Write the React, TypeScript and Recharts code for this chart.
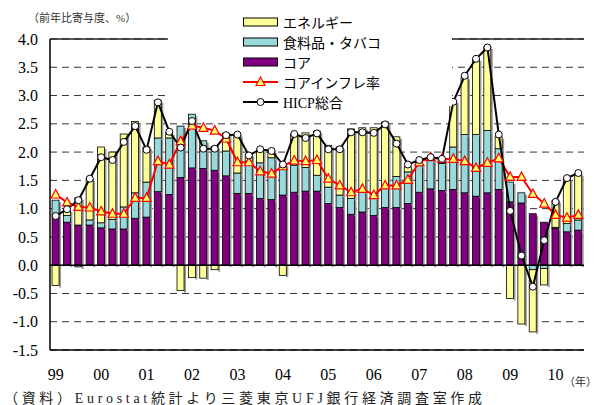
import React from 'react';
import { ComposedChart, Bar, Line, XAxis, YAxis, CartesianGrid, ReferenceLine } from 'recharts';

// 四半期 (1999Q1〜2010Q3)
const years = ['99', '00', '01', '02', '03', '04', '05', '06', '07', '08', '09', '10'];
const quarters = years.flatMap((y) => ['Q1', 'Q2', 'Q3', 'Q4'].map((q) => y + q)).slice(0, 47);

// 寄与度 (%pt)
const core = [
  0.89, 0.76, 0.71, 0.71,
  0.66, 0.64, 0.64, 0.83,
  0.85, 1.30, 1.25, 1.55,
  1.72, 1.71, 1.68, 1.58,
  1.27, 1.27, 1.18, 1.16,
  1.24, 1.29, 1.31, 1.31,
  1.09, 1.02, 0.90, 0.94,
  0.88, 1.02, 1.02, 1.09,
  1.29, 1.35, 1.32, 1.34,
  1.28, 1.22, 1.28, 1.34,
  1.12, 1.10, 0.91, 0.76,
  0.65, 0.59, 0.62,
];
const food = [
  0.26, 0.12, -0.03, 0.09,
  0.09, 0.17, 0.39, 0.45,
  0.62, 0.95, 1.00, 0.91,
  0.95, 0.49, 0.42, 0.44,
  0.36, 0.57, 0.63, 0.74,
  0.55, 0.48, 0.42, 0.28,
  0.29, 0.22, 0.28, 0.35,
  0.31, 0.36, 0.55, 0.56,
  0.47, 0.50, 0.48, 0.75,
  1.03, 1.09, 1.10, 0.72,
  0.35, 0.18, -0.08, -0.06,
  0.02, 0.15, 0.18,
];
const energy = [
  -0.36, 0.10, 0.48, 0.73,
  1.34, 1.19, 1.29, 1.26,
  0.62, 0.66, 0.09, -0.45,
  -0.22, -0.23, -0.08, 0.31,
  0.68, 0.12, 0.24, 0.12,
  -0.18, 0.55, 0.61, 0.78,
  0.74, 0.85, 1.23, 1.14,
  1.24, 1.15, 0.70, 0.09,
  0.06, 0.06, 0.08, 0.81,
  1.01, 1.34, 1.48, 0.21,
  -0.59, -1.04, -1.10, -0.29,
  0.47, 0.79, 0.82,
];
// 前年比 (%)
const coreInflation = [
  1.25, 1.11, 1.03, 1.02,
  0.95, 0.91, 0.91, 1.19,
  1.19, 1.84, 1.78, 2.19,
  2.47, 2.43, 2.38, 2.24,
  1.82, 1.82, 1.66, 1.62,
  1.75, 1.85, 1.84, 1.86,
  1.53, 1.41, 1.29, 1.35,
  1.24, 1.41, 1.41, 1.51,
  1.82, 1.91, 1.88, 1.88,
  1.84, 1.72, 1.81, 1.89,
  1.56, 1.56, 1.26, 1.09,
  0.89, 0.84, 0.89,
];
const hicp = [
  0.87, 0.99, 1.15, 1.53,
  1.91, 1.86, 2.18, 2.46,
  2.04, 2.88, 2.36, 2.08,
  2.55, 2.06, 2.06, 2.30,
  2.31, 1.94, 2.05, 2.02,
  1.78, 2.32, 2.25, 2.33,
  2.05, 2.05, 2.35, 2.35,
  2.34, 2.49, 2.15, 1.78,
  1.86, 1.91, 1.88, 2.89,
  3.35, 3.65, 3.85, 2.31,
  0.96, 0.17, -0.38, 0.44,
  1.12, 1.54, 1.63,
];
const yTicks = [-1.5, -1.0, -0.5, 0, 0.5, 1.0, 1.5, 2.0, 2.5, 3.0, 3.5, 4.0];

const data = quarters.map((q, i) => ({
  q,
  core: core[i],
  food: food[i],
  energy: energy[i],
  coreInflation: coreInflation[i],
  hicp: hicp[i],
}));

const YELLOW = '#FFFF99';
const TEAL = '#99D9DA';
const PURPLE = '#800080';
const RED = '#FF0000';
const SERIF = '"Liberation Serif", "Noto Sans CJK JP", serif';

// 影付きの棒
const ShadowBar = (props: any) => {
  const { x, y, width, height, fill } = props;
  if (!height) return <g />;
  const top = height < 0 ? y + height : y;
  const h = Math.abs(height);
  return (
    <g>
      <rect x={x + width} y={top + 2} width={2} height={h} fill="#9a9a9a" />
      <rect x={x} y={top} width={width} height={h} fill={fill} stroke="#000" strokeWidth={0.8} />
    </g>
  );
};

const Triangle = (props: any) => {
  const { cx, cy, index } = props;
  return (
    <polygon
      key={`tri-${index}`}
      points={`${cx},${cy - 5} ${cx - 4.5},${cy + 3.5} ${cx + 4.5},${cy + 3.5}`}
      fill="#FFFF66"
      stroke={RED}
      strokeWidth={1.2}
    />
  );
};

const legendRows = [
  { label: 'エネルギー', kind: 'box', color: YELLOW },
  { label: '食料品・タバコ', kind: 'box', color: TEAL },
  { label: 'コア', kind: 'box', color: PURPLE },
  { label: 'コアインフレ率', kind: 'tri', color: RED },
  { label: 'HICP総合', kind: 'circle', color: '#000' },
];

export default function App() {
  return (
    <div style={{ position: 'absolute', left: 0, top: 0, width: 599, height: 405, background: '#fff' }}>
      <ComposedChart
        width={599}
        height={405}
        data={data}
        stackOffset="sign"
        barCategoryGap="18%"
        margin={{ top: 39, right: 15, bottom: 25, left: 10 }}
      >
        <CartesianGrid vertical={false} stroke="#333" strokeDasharray="7 5" />
        <XAxis
          dataKey="q"
          interval={0}
          tickLine={false}
          height={30}
          tickMargin={13}
          axisLine={{ stroke: '#000', strokeWidth: 1.5 }}
          tickFormatter={(v: string) => (v.endsWith('Q1') ? v.slice(0, 2) : '')}
          tick={{ fill: '#000', fontSize: 16, fontFamily: SERIF }}
        />
        <YAxis
          width={40}
          domain={[-1.5, 4]}
          ticks={yTicks}
          interval={0}
          tickLine={false}
          tickMargin={6}
          axisLine={{ stroke: '#000', strokeWidth: 1.5 }}
          tickFormatter={(v: number) => v.toFixed(1)}
          tick={{ fill: '#000', fontSize: 16, fontFamily: SERIF }}
        />
        <YAxis
          yAxisId="r"
          orientation="right"
          width={0}
          domain={[-1.5, 4]}
          tick={false}
          tickLine={false}
          axisLine={{ stroke: '#333', strokeWidth: 1.5 }}
        />
        <Bar dataKey="core" stackId="a" fill={PURPLE} shape={ShadowBar} isAnimationActive={false} />
        <Bar dataKey="food" stackId="a" fill={TEAL} shape={ShadowBar} isAnimationActive={false} />
        <Bar dataKey="energy" stackId="a" fill={YELLOW} shape={ShadowBar} isAnimationActive={false} />
        <ReferenceLine y={0} stroke="#000" strokeWidth={1.5} />
        <ReferenceLine y={4} stroke="#222" strokeWidth={1.5} />
        <Line
          dataKey="coreInflation"
          stroke={RED}
          strokeWidth={2}
          dot={Triangle}
          isAnimationActive={false}
        />
        <Line
          dataKey="hicp"
          stroke="#000"
          strokeWidth={2}
          dot={{ r: 3.5, fill: '#fff', stroke: '#000', strokeWidth: 1 }}
          isAnimationActive={false}
        />
      </ComposedChart>

      {/* 凡例 */}
      <div style={{ position: 'absolute', left: 168, top: 0, width: 284, height: 106, background: '#fff' }}>
        {legendRows.map((r, i) => (
          <div
            key={r.label}
            style={{ position: 'absolute', left: 75, top: 12 + i * 20, height: 20, display: 'flex', alignItems: 'center' }}
          >
            <svg width={36} height={20} style={{ marginRight: 4 }}>
              {r.kind === 'box' && <rect x={0.5} y={6} width={34} height={8} fill={r.color} stroke="#000" strokeWidth={1} />}
              {r.kind === 'tri' && (
                <g>
                  <line x1={0} y1={10} x2={35} y2={10} stroke={RED} strokeWidth={2} />
                  <polygon points="17.5,5 13,13.5 22,13.5" fill="#FFFF66" stroke={RED} strokeWidth={1.2} />
                </g>
              )}
              {r.kind === 'circle' && (
                <g>
                  <line x1={0} y1={10} x2={35} y2={10} stroke="#000" strokeWidth={2} />
                  <circle cx={17.5} cy={10} r={3.5} fill="#fff" stroke="#000" strokeWidth={1} />
                </g>
              )}
            </svg>
            <span style={{ fontFamily: SERIF, fontSize: 14, color: '#000', whiteSpace: 'nowrap' }}>{r.label}</span>
          </div>
        ))}
      </div>

      <svg width={599} height={405} style={{ position: 'absolute', left: 0, top: 0, pointerEvents: 'none' }}>
        <text x={28} y={22} fontSize={11} fontFamily={SERIF} fill="#333">（前年比寄与度、%）</text>
        <text x={564} y={386} fontSize={11} fontFamily={SERIF} fill="#333">（年）</text>
        <text x={4} y={403} fontSize={14} fontFamily={SERIF} fill="#222" textLength={478} lengthAdjust="spacing">
          （資料）Eurostat統計より三菱東京UFJ銀行経済調査室作成
        </text>
      </svg>
    </div>
  );
}
